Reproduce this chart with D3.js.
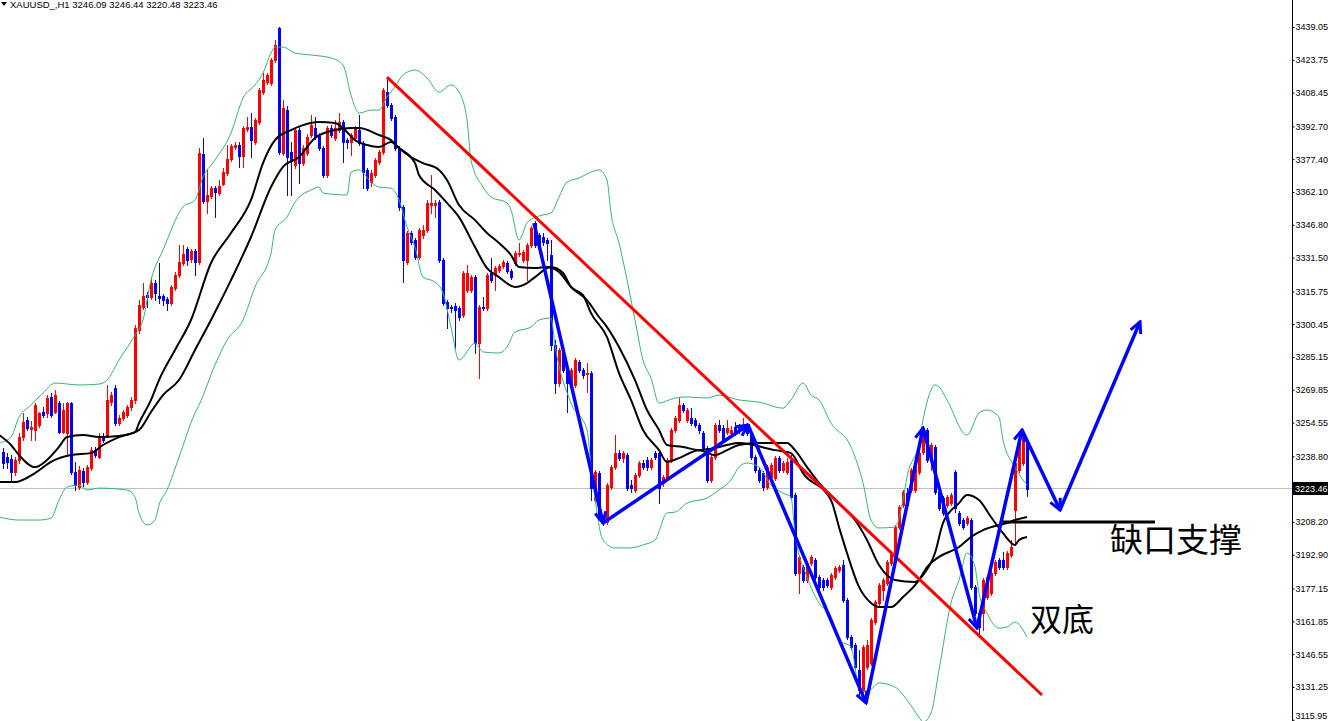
<!DOCTYPE html>
<html><head><meta charset="utf-8">
<script src="https://cdn.jsdelivr.net/npm/d3@7"></script>
<style>html,body{margin:0;padding:0;background:#fff;overflow:hidden}</style>
</head><body>
<svg id="c" width="1328" height="721"></svg>
<script>
const symbol = "XAUUSD_,H1";
const opens = [3240.8,3238.4,3237.5,3231.5,3237.1,3247.8,3255.7,3251.6,3251.1,3253.4,3259.5,3259.0,3266.5,3259.5,3263.7,3250.1,3249.7,3263.7,3231.5,3224.5,3231.9,3226.8,3233.4,3241.7,3238.4,3247.8,3248.7,3264.2,3270.7,3254.3,3256.7,3258.1,3261.8,3265.1,3297.7,3308.4,3314.0,3313.1,3319.6,3313.6,3313.6,3312.2,3310.3,3317.3,3323.4,3329.0,3335.5,3330.8,3334.6,3329.4,3379.8,3357.9,3360.2,3364.0,3361.6,3365.8,3371.0,3377.5,3383.1,3384.0,3378.9,3391.5,3392.4,3385.4,3394.7,3408.7,3413.4,3412.9,3423.7,3438.6,3380.3,3400.3,3380.7,3374.7,3391.0,3375.6,3380.3,3388.7,3391.9,3388.2,3382.6,3370.0,3391.9,3387.3,3391.0,3394.7,3386.3,3385.4,3387.3,3391.0,3384.9,3372.4,3366.7,3370.0,3376.1,3380.7,3408.7,3402.7,3397.1,3382.6,3355.1,3329.4,3343.0,3339.7,3331.8,3342.0,3344.4,3356.0,3356.0,3357.4,3330.4,3310.8,3308.4,3308.9,3308.0,3304.7,3316.4,3316.4,3322.4,3291.6,3308.4,3308.0,3324.3,3323.4,3325.7,3327.6,3329.0,3325.2,3329.0,3333.2,3330.4,3330.4,3337.4,3347.6,3342.0,3341.1,3339.7,3332.7,3290.7,3273.0,3287.5,3279.1,3272.1,3272.1,3282.8,3279.1,3277.2,3277.6,3218.4,3231.0,3210.5,3208.2,3224.5,3233.8,3240.3,3238.0,3239.4,3225.4,3223.1,3230.1,3235.7,3237.1,3233.8,3240.3,3240.3,3226.4,3228.7,3237.1,3251.1,3255.7,3262.7,3255.7,3256.7,3255.7,3253.4,3249.7,3242.7,3227.8,3238.4,3253.4,3252.0,3250.1,3249.7,3252.5,3252.5,3252.0,3252.5,3249.7,3238.4,3232.4,3231.0,3224.5,3229.2,3228.7,3238.0,3232.4,3231.5,3237.1,3220.8,3184.4,3187.2,3181.1,3189.0,3190.4,3182.5,3181.1,3181.1,3177.9,3182.5,3185.8,3188.1,3171.8,3154.5,3150.8,3139.1,3129.8,3140.5,3142.4,3161.5,3170.4,3176.4,3179.7,3189.0,3192.8,3205.8,3216.1,3221.7,3223.1,3223.1,3231.5,3240.8,3251.1,3237.1,3243.2,3222.2,3219.4,3216.1,3217.0,3231.5,3212.4,3209.1,3207.7,3209.1,3177.9,3165.7,3165.7,3173.2,3175.1,3184.4,3190.4,3190.4,3187.2,3192.8,3213.8,3232.4,3235.7,3246.09];
const highs = [3242.7,3240.3,3239.4,3238.4,3249.7,3259.0,3257.1,3255.3,3263.7,3259.5,3261.8,3267.4,3268.3,3269.7,3264.6,3263.7,3264.2,3264.2,3236.2,3234.3,3233.4,3234.7,3243.2,3243.2,3249.7,3249.7,3272.1,3268.8,3272.1,3258.1,3260.4,3262.7,3266.5,3300.0,3311.7,3319.6,3315.5,3322.4,3321.0,3329.0,3314.5,3313.1,3318.7,3324.8,3337.4,3337.4,3336.4,3335.5,3335.5,3382.6,3387.3,3372.4,3364.9,3364.9,3367.7,3373.3,3384.0,3384.5,3385.4,3385.4,3392.9,3397.1,3398.9,3396.6,3410.6,3417.6,3417.6,3424.6,3433.0,3439.05,3405.0,3402.2,3385.4,3391.9,3392.4,3384.0,3389.1,3398.0,3397.1,3389.6,3383.5,3392.9,3393.3,3395.7,3398.9,3395.7,3387.3,3389.6,3392.9,3398.0,3385.9,3373.3,3372.4,3377.9,3381.7,3410.6,3415.3,3403.6,3398.0,3383.5,3356.0,3343.9,3343.9,3340.6,3345.3,3346.7,3358.4,3370.0,3358.4,3358.4,3331.3,3311.7,3309.4,3310.3,3308.9,3325.2,3328.0,3323.4,3323.4,3309.4,3313.1,3324.3,3331.3,3327.6,3328.5,3330.4,3329.9,3326.2,3334.6,3338.3,3335.0,3338.3,3346.2,3348.6,3343.0,3343.0,3340.6,3339.7,3293.0,3289.3,3288.4,3280.0,3280.0,3284.7,3283.7,3280.0,3282.3,3278.6,3232.4,3231.9,3211.4,3226.4,3234.7,3248.7,3241.7,3241.3,3240.3,3227.8,3231.0,3236.6,3237.1,3238.4,3238.0,3241.3,3241.3,3230.1,3238.0,3252.0,3257.6,3266.0,3263.7,3261.3,3261.3,3256.7,3254.3,3250.6,3243.6,3239.4,3254.3,3255.7,3253.4,3255.7,3253.0,3254.8,3253.9,3256.7,3254.3,3250.6,3239.4,3233.4,3231.9,3234.7,3235.7,3238.9,3238.9,3236.6,3238.0,3239.4,3221.7,3192.8,3188.1,3190.0,3192.8,3191.4,3183.4,3182.1,3182.1,3184.4,3187.6,3188.1,3190.4,3172.7,3155.5,3151.7,3148.5,3150.8,3153.1,3163.4,3171.8,3179.7,3182.1,3190.4,3194.6,3206.8,3216.1,3223.1,3224.0,3233.4,3234.7,3241.3,3248.3,3252.0,3245.0,3244.1,3223.1,3220.3,3220.8,3221.7,3232.4,3213.3,3210.0,3211.0,3210.0,3178.8,3166.7,3182.1,3183.4,3185.3,3190.4,3191.4,3194.2,3194.6,3199.8,3236.6,3245.9,3248.3,3246.44];
const lows = [3233.4,3233.4,3227.8,3230.1,3235.7,3246.4,3251.1,3246.4,3246.4,3252.5,3257.1,3257.1,3257.1,3259.0,3249.7,3249.7,3239.4,3230.6,3223.1,3223.6,3224.9,3225.9,3232.4,3238.4,3238.0,3245.5,3247.8,3262.7,3253.4,3253.4,3255.7,3257.1,3260.4,3263.7,3296.3,3307.5,3308.4,3312.2,3311.7,3310.3,3309.4,3307.0,3309.4,3316.4,3322.4,3328.0,3328.0,3329.4,3323.4,3328.5,3357.0,3352.3,3359.3,3350.4,3360.7,3365.4,3370.0,3376.5,3382.1,3373.8,3373.8,3390.5,3378.4,3384.5,3393.8,3407.8,3412.5,3412.0,3422.7,3379.8,3379.3,3360.7,3360.7,3373.3,3366.3,3374.7,3379.3,3387.7,3386.8,3381.7,3369.1,3369.1,3387.7,3386.3,3390.1,3376.1,3382.6,3379.3,3386.3,3384.0,3364.0,3363.0,3364.9,3369.1,3375.2,3379.8,3401.7,3395.7,3381.7,3353.7,3320.1,3328.5,3337.8,3330.8,3330.8,3340.6,3343.4,3352.3,3350.4,3329.4,3309.4,3298.6,3306.1,3289.3,3302.4,3303.8,3315.5,3315.5,3287.0,3275.3,3307.0,3307.0,3320.1,3316.4,3324.8,3326.6,3324.3,3321.5,3328.0,3332.2,3329.4,3321.0,3336.4,3336.4,3336.0,3337.4,3330.4,3288.4,3268.3,3271.6,3278.1,3259.5,3270.7,3271.2,3278.1,3275.3,3268.8,3218.4,3217.5,3209.1,3206.8,3207.3,3223.6,3232.9,3237.1,3236.2,3223.1,3222.2,3222.2,3229.2,3232.9,3232.4,3232.9,3237.5,3217.0,3224.9,3227.8,3236.2,3250.1,3254.8,3259.5,3254.8,3253.4,3252.5,3249.7,3241.7,3226.8,3226.8,3237.5,3250.1,3245.5,3249.2,3248.3,3248.7,3249.7,3251.1,3248.7,3237.5,3231.5,3226.8,3223.1,3223.6,3228.2,3227.8,3231.5,3231.5,3230.6,3218.9,3183.4,3175.1,3180.2,3180.2,3188.1,3181.6,3176.9,3176.4,3177.9,3176.9,3181.6,3184.8,3170.9,3153.6,3148.9,3139.6,3127.5,3126.6,3139.6,3141.5,3160.6,3169.5,3171.8,3178.8,3188.1,3191.9,3204.9,3215.2,3215.2,3222.2,3222.2,3230.6,3239.9,3236.2,3232.4,3221.2,3213.8,3211.4,3215.2,3216.1,3212.8,3206.8,3204.9,3206.8,3176.9,3164.8,3154.5,3157.8,3172.3,3174.1,3183.4,3186.2,3186.2,3186.2,3191.9,3197.5,3231.5,3234.7,3220.48];
const closes = [3235.7,3236.2,3231.5,3237.1,3247.8,3254.8,3252.0,3252.5,3262.7,3259.0,3258.1,3266.0,3258.1,3267.4,3250.1,3260.4,3263.7,3231.5,3225.4,3232.4,3226.8,3233.8,3241.7,3239.4,3247.3,3246.4,3265.1,3267.4,3254.3,3256.7,3259.5,3261.8,3265.1,3298.6,3309.4,3313.6,3313.1,3319.6,3315.0,3312.6,3311.7,3310.3,3317.8,3323.4,3329.4,3333.2,3330.4,3334.6,3329.4,3380.3,3357.9,3360.7,3364.0,3362.1,3364.9,3371.4,3377.5,3383.5,3384.0,3378.9,3391.9,3392.4,3386.3,3395.7,3409.7,3414.3,3416.7,3423.7,3430.6,3380.7,3401.3,3378.4,3377.0,3391.0,3375.6,3382.6,3387.7,3393.3,3387.7,3382.6,3370.0,3391.9,3388.7,3391.9,3394.7,3385.4,3385.4,3388.7,3391.9,3384.9,3371.4,3364.0,3371.0,3377.0,3380.7,3409.7,3402.7,3396.6,3382.6,3355.1,3330.4,3343.0,3338.8,3331.8,3344.4,3344.4,3357.0,3357.0,3357.0,3330.4,3310.3,3308.0,3308.0,3307.0,3303.8,3324.3,3324.3,3322.4,3291.6,3308.4,3308.0,3323.4,3321.0,3326.6,3327.6,3329.4,3325.2,3322.4,3333.6,3333.6,3334.1,3337.4,3345.3,3337.4,3337.4,3338.8,3338.3,3290.7,3273.0,3288.4,3279.1,3273.0,3279.1,3283.7,3279.1,3276.7,3277.6,3224.0,3231.5,3210.5,3207.7,3225.4,3233.8,3240.3,3238.0,3240.3,3224.0,3224.0,3230.1,3235.7,3233.8,3233.8,3237.1,3238.4,3224.0,3229.2,3237.1,3251.1,3256.7,3262.7,3260.4,3260.4,3254.3,3253.4,3251.1,3242.7,3227.8,3238.4,3253.4,3251.1,3246.4,3252.0,3251.1,3249.7,3251.1,3253.4,3249.7,3238.4,3232.4,3227.8,3224.5,3233.8,3234.7,3238.0,3232.4,3235.7,3236.2,3219.8,3184.4,3191.9,3181.1,3189.0,3191.9,3182.5,3177.9,3177.9,3178.8,3183.4,3186.7,3187.2,3171.8,3154.5,3149.9,3140.5,3129.8,3149.9,3150.8,3162.5,3170.9,3178.8,3181.1,3189.5,3193.7,3205.8,3215.2,3222.2,3216.1,3232.4,3233.8,3240.3,3247.3,3237.1,3244.1,3222.2,3214.7,3212.4,3219.8,3220.8,3214.7,3207.7,3205.8,3210.0,3177.9,3165.7,3159.2,3181.1,3182.5,3184.4,3189.5,3187.2,3187.2,3193.7,3196.5,3235.7,3245.0,3247.3,3223.46];

// indicator lines: [bar, price]
const maFast = [[-1,3248.8],[2,3244.1],[4,3239.4],[8,3233.8],[11,3237.1],[14,3243.2],[16,3247.8],[20,3248.8],[24,3247.8],[29,3248.3],[33,3250.1],[34,3254.3],[37,3265.1],[39,3274.4],[43,3288.4],[47,3302.4],[52,3329.0],[57,3343.0],[62,3358.4],[65,3375.6],[68,3386.3],[72,3391.0],[75,3393.3],[79,3394.7],[83,3394.3],[85,3391.9],[88,3386.3],[91,3384.0],[94,3383.1],[97,3385.4],[99,3382.6],[103,3375.6],[104,3370.0],[108,3363.0],[111,3357.0],[114,3350.4],[118,3336.4],[121,3326.6],[124,3322.4],[128,3317.8],[131,3319.6],[133,3322.4],[137,3327.1],[140,3324.3],[142,3317.8],[145,3314.0],[147,3305.6],[151,3294.4],[154,3277.6],[157,3265.1],[160,3251.1],[164,3241.7],[166,3236.2],[169,3238.0],[174,3241.7],[178,3239.4],[181,3241.7],[184,3244.1],[189,3245.0],[196,3245.0],[198,3241.7],[201,3233.8],[204,3226.4],[209,3217.0],[213,3209.1],[216,3199.8],[219,3188.1],[223,3181.1],[228,3180.2],[230,3183.4],[233,3193.7],[235,3207.7],[239,3217.0],[241,3220.8],[244,3218.4],[247,3210.5],[250,3203.0],[253,3197.5],[254,3199.8],[256,3201.2]];
const maSlow = [[-1,3226.8],[3,3226.8],[8,3231.0],[12,3236.2],[17,3239.4],[22,3240.3],[25,3244.1],[29,3247.8],[34,3251.1],[37,3259.5],[40,3267.4],[44,3274.4],[48,3288.4],[52,3302.4],[57,3321.0],[62,3341.1],[67,3364.4],[70,3373.8],[74,3378.4],[78,3387.3],[83,3391.0],[87,3391.9],[89,3391.9],[94,3388.7],[97,3386.3],[99,3382.6],[102,3378.4],[105,3375.6],[109,3372.4],[111,3367.7],[114,3356.0],[118,3349.0],[121,3343.0],[124,3338.3],[127,3332.7],[129,3327.1],[133,3326.6],[136,3327.1],[139,3324.8],[142,3317.8],[146,3311.7],[149,3303.8],[151,3299.1],[154,3289.8],[158,3274.4],[161,3260.4],[164,3251.1],[166,3244.1],[170,3243.2],[174,3241.7],[178,3242.7],[181,3244.1],[184,3245.0],[193,3241.7],[197,3240.3],[200,3231.0],[207,3218.4],[209,3205.8],[211,3193.7],[214,3177.9],[217,3170.4],[219,3168.5],[222,3168.5],[225,3173.2],[229,3181.1],[231,3187.2],[234,3191.9],[239,3196.5],[242,3201.2],[245,3204.4],[249,3206.8],[251,3207.7],[253,3209.1],[256,3210.5]];
const bbUpper = [[-1,3245.0],[2,3247.8],[4,3257.1],[7,3262.7],[10,3268.3],[13,3273.0],[19,3272.1],[24,3272.5],[26,3274.4],[29,3283.7],[33,3295.4],[35,3302.4],[37,3321.0],[40,3335.0],[45,3355.1],[48,3358.4],[50,3369.1],[53,3377.0],[57,3389.6],[60,3405.9],[63,3412.0],[65,3417.6],[67,3426.9],[68,3429.7],[70,3429.7],[73,3426.9],[77,3426.0],[82,3424.6],[85,3421.3],[87,3407.3],[88,3401.7],[89,3398.9],[92,3400.3],[94,3400.3],[96,3406.4],[98,3411.1],[100,3416.7],[103,3419.0],[106,3415.3],[109,3408.7],[112,3412.0],[114,3408.7],[116,3395.7],[117,3377.0],[120,3364.4],[122,3359.8],[126,3357.0],[127,3353.7],[129,3339.7],[131,3347.6],[134,3350.9],[137,3352.3],[139,3359.8],[141,3366.7],[144,3368.6],[147,3371.4],[149,3372.4],[151,3367.7],[152,3352.3],[154,3338.3],[158,3302.4],[160,3283.7],[162,3275.3],[164,3263.7],[168,3266.0],[171,3266.5],[176,3266.0],[179,3267.4],[184,3265.1],[189,3264.1],[195,3261.3],[197,3265.1],[200,3273.0],[202,3267.4],[204,3265.1],[207,3254.3],[212,3243.2],[215,3226.4],[217,3209.1],[219,3205.4],[223,3205.8],[225,3218.4],[226,3229.2],[229,3245.0],[230,3255.7],[232,3269.7],[233,3272.1],[234,3271.2],[236,3265.1],[241,3248.7],[244,3259.0],[246,3260.4],[249,3257.1],[250,3246.4],[253,3233.8],[256,3225.4]];
const bbLower = [[-1,3210.5],[4,3209.1],[9,3209.1],[12,3210.0],[14,3218.4],[16,3224.5],[19,3225.4],[21,3223.1],[24,3224.0],[31,3223.1],[33,3219.8],[34,3212.4],[36,3206.8],[38,3209.1],[39,3216.1],[41,3223.1],[44,3238.4],[48,3259.0],[49,3262.7],[53,3281.4],[56,3293.0],[60,3302.4],[63,3317.8],[67,3333.6],[68,3344.4],[71,3350.4],[73,3357.4],[77,3363.0],[79,3364.4],[80,3361.6],[86,3360.7],[87,3371.4],[89,3372.4],[92,3366.7],[94,3364.4],[97,3363.9],[99,3358.4],[101,3345.8],[103,3336.4],[105,3322.4],[108,3320.1],[110,3315.0],[112,3299.1],[114,3283.7],[118,3291.6],[120,3287.5],[124,3287.0],[126,3289.8],[128,3296.8],[132,3299.1],[134,3302.4],[137,3303.3],[138,3290.7],[142,3263.7],[146,3251.1],[147,3234.7],[150,3199.8],[153,3196.1],[157,3196.1],[160,3197.5],[163,3199.8],[166,3212.4],[168,3212.8],[171,3217.0],[176,3219.4],[179,3223.1],[182,3227.8],[184,3233.8],[186,3235.7],[189,3233.8],[192,3225.4],[195,3221.7],[197,3219.8],[198,3203.0],[201,3182.5],[204,3170.4],[207,3163.9],[209,3153.1],[212,3149.9],[214,3131.2],[216,3128.9],[219,3133.1],[223,3131.2],[226,3125.2],[229,3117.2],[230,3114.9],[232,3119.1],[234,3139.1],[237,3170.4],[239,3181.1],[241,3193.7],[243,3187.2],[244,3175.1],[246,3165.7],[249,3158.7],[251,3159.2],[253,3161.5],[256,3154.5]];

const priceTicks = [3439.05,3423.75,3408.45,3392.70,3377.40,3362.10,3346.80,3331.50,3315.75,3300.45,3285.15,3269.85,3254.55,3238.80,3208.20,3192.90,3177.15,3161.85,3146.55,3131.25,3115.95];

// drawn objects
const trendBars = [96, 259.75];
const trendPrices = [3415.7, 3127.5];
const zigBars = [132.75, 150, 186.25, 215.75, 230, 243.5, 254.75, 264.25, 284.25];
const zigPrices = [3347.6, 3207.7, 3253.4, 3123.8, 3252.0, 3158.7, 3251.1, 3213.8, 3301.5];
const gapBars = [250, 288];
const gapPrice = 3208.2;
const noteTexts = ["缺口支撑", "双底"];
const noteBars = [276.75, 256.75];
const notePrices = [3194.2, 3157.3];

const W = 1328, H = 721, axisX = 1292;
const svg = d3.select("#c");
const x = d3.scaleLinear().domain([0, 256]).range([3, 1027]);
const y = d3.scaleLinear().domain([3115.95, 3439.05]).range([719.76, 27]);

svg.append("defs").append("clipPath").attr("id","plot")
  .append("rect").attr("x",0).attr("y",0).attr("width",axisX).attr("height",H);
const plot = svg.append("g").attr("clip-path","url(#plot)");

// current price line
const last = closes[closes.length-1];
plot.append("line").attr("x1",0).attr("x2",axisX).attr("y1",Math.round(y(last))-0.5).attr("y2",Math.round(y(last))-0.5)
  .attr("stroke","#c0c0c0").attr("stroke-width",1);

// candles
const n = closes.length;
const cg = plot.append("g").attr("shape-rendering","crispEdges");
for (let i=0;i<n;i++){
  const o=opens[i], c=closes[i], h=highs[i], l=lows[i];
  const col = c>=o ? "#ff0000" : "#0000ff";
  const cx = Math.round(x(i));
  cg.append("line").attr("x1",cx+0.5).attr("x2",cx+0.5)
    .attr("y1",Math.round(y(h))).attr("y2",Math.round(y(l))+1).attr("stroke",col).attr("stroke-width",1);
  const yt = Math.round(y(Math.max(o,c))), yb = Math.round(y(Math.min(o,c)));
  cg.append("rect").attr("x",cx-1).attr("y",yt).attr("width",3).attr("height",Math.max(1,yb-yt+1)).attr("fill",col);
}

// indicators
const ln = d3.line().x(d=>x(d[0])).y(d=>y(d[1])).curve(d3.curveMonotoneX);
[bbUpper,bbLower].forEach(s=>plot.append("path").attr("d",ln(s)).attr("fill","none").attr("stroke","#3cb371").attr("stroke-width",1));
[maSlow,maFast].forEach(s=>plot.append("path").attr("d",ln(s)).attr("fill","none").attr("stroke","#000").attr("stroke-width",2));

// red trend line
svg.append("line").attr("x1",x(trendBars[0])).attr("y1",y(trendPrices[0]))
  .attr("x2",x(trendBars[1])).attr("y2",y(trendPrices[1]))
  .attr("stroke","#ff0000").attr("stroke-width",3);

// gap support line
svg.append("line").attr("x1",x(gapBars[0])).attr("x2",x(gapBars[1]))
  .attr("y1",y(gapPrice)).attr("y2",y(gapPrice)).attr("stroke","#000").attr("stroke-width",3);

// blue zigzag arrows
const mk = svg.select("defs").append("marker").attr("id","ah")
  .attr("markerUnits","userSpaceOnUse").attr("viewBox","-14 -8 16 16")
  .attr("markerWidth",16).attr("markerHeight",16).attr("refX",0).attr("refY",0).attr("orient","auto");
mk.append("path").attr("d","M-11,-5.5L0,0L-11,5.5").attr("fill","none").attr("stroke","#0000ff").attr("stroke-width",3);
for (let k=0;k<zigBars.length-1;k++){
  svg.append("line").attr("x1",x(zigBars[k])).attr("y1",y(zigPrices[k]))
    .attr("x2",x(zigBars[k+1])).attr("y2",y(zigPrices[k+1]))
    .attr("stroke","#0000ff").attr("stroke-width",3.5).attr("marker-end","url(#ah)");
}

// notes
noteTexts.forEach((t,k)=>{
  svg.append("text").attr("x",x(noteBars[k])).attr("y",y(notePrices[k]))
    .attr("font-family","'Noto Sans CJK SC'").attr("font-size",k===0?33:32).attr("fill","#000").text(t);
});

// right axis
svg.append("line").attr("x1",axisX+0.5).attr("x2",axisX+0.5).attr("y1",0).attr("y2",H).attr("stroke","#000");
const ax = d3.axisRight(y).tickValues(priceTicks).tickSize(2).tickPadding(1).tickFormat(d=>d.toFixed(2));
const ag = svg.append("g").attr("transform",`translate(${axisX+0.5},0)`).call(ax);
ag.select(".domain").remove();
ag.selectAll("text").attr("font-family","'Liberation Sans',Arial,sans-serif").attr("font-size",9).attr("fill","#000")
  .attr("dy", d => y(d) > H-6 ? "-0.1em" : "0.32em");
ag.selectAll("line").attr("stroke","#000");

// current price label
const ly = Math.round(y(last));
svg.append("rect").attr("x",axisX+1).attr("y",ly-7).attr("width",W-axisX).attr("height",13).attr("fill","#000");
svg.append("text").attr("x",axisX+3).attr("y",ly).attr("dy","0.35em").attr("font-family","'Liberation Sans',Arial,sans-serif")
  .attr("font-size",9).attr("fill","#fff").text(last.toFixed(2));

// header
svg.append("path").attr("d","M1,2L7,2L4,6Z").attr("fill","#000");
svg.append("text").attr("x",10).attr("y",8).attr("font-family","'Liberation Sans',Arial,sans-serif").attr("font-size",9.5).attr("fill","#000")
  .text(`${symbol}  ${opens[n-1].toFixed(2)} ${highs[n-1].toFixed(2)} ${lows[n-1].toFixed(2)} ${closes[n-1].toFixed(2)}`);
</script>
</body></html>
